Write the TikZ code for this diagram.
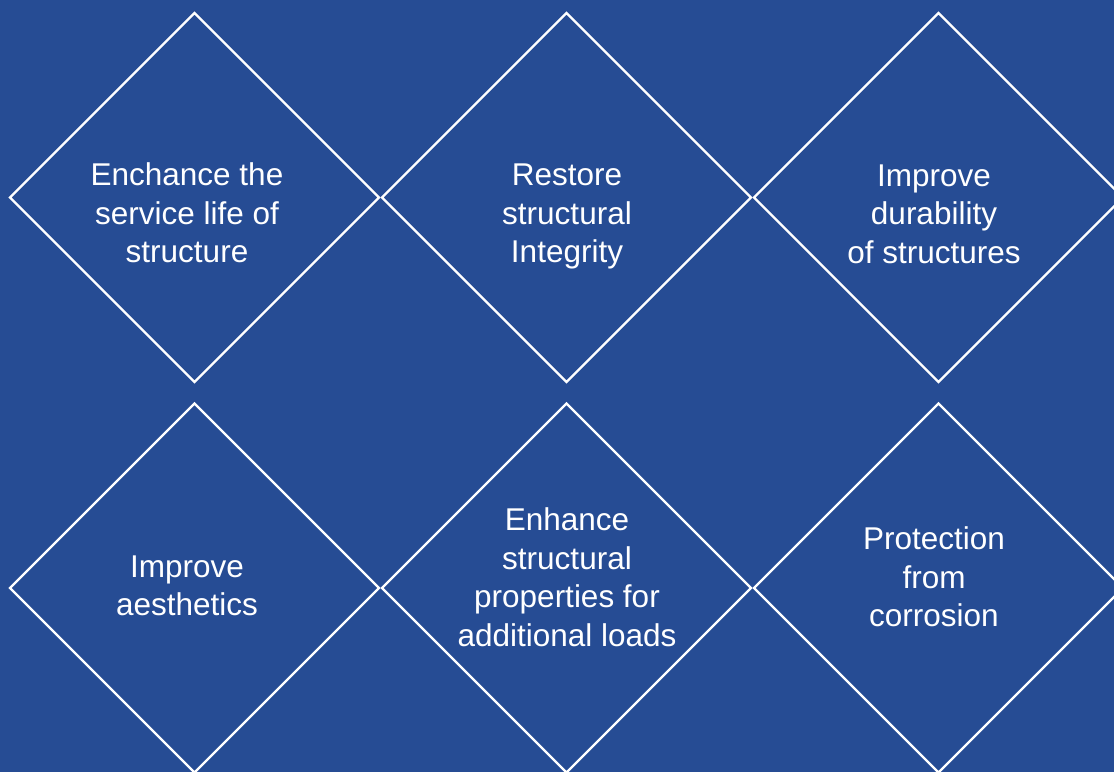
\documentclass[tikz,border=0pt]{standalone}
\usepackage{fontspec}
\setmainfont{Liberation Sans}
\usetikzlibrary{shapes.geometric}
\definecolor{bgblue}{HTML}{264C94}
\tikzset{
  gem/.style={diamond, draw=white, line width=2.2pt, minimum width=369pt, minimum height=369pt, inner sep=0pt, outer sep=0pt},
  caption/.style={text=white, align=center, font=\fontsize{31.5}{38.5}\selectfont, inner sep=0pt}
}
\begin{document}
\begin{tikzpicture}[x=1pt,y=1pt]
\fill[bgblue] (0,0) rectangle (1114,772);
\useasboundingbox (0,0) rectangle (1114,772);
\clip (0,0) rectangle (1114,772);
\node[gem] (d1) at (194.5,574.5) {};
\node[gem] (d2) at (566.5,574.5) {};
\node[gem] (d3) at (938.5,574.5) {};
\node[gem] (d4) at (194.5,184) {};
\node[gem] (d5) at (566.5,184) {};
\node[gem] (d6) at (938.5,184) {};
\node[caption] (t1) at (187,559) {Enchance the\\service life of\\structure};
\node[caption] (t2) at (567,555.5) {Restore\\structural\\Integrity};
\node[caption] (t3) at (934,558) {Improve\\durability\\of structures};
\node[caption] (t4) at (187,186) {Improve\\aesthetics};
\node[caption] (t5) at (567,195) {Enhance\\structural\\properties for\\additional loads};
\node[caption] (t6) at (934,195) {Protection\\from\\corrosion};
\end{tikzpicture}
\end{document}
